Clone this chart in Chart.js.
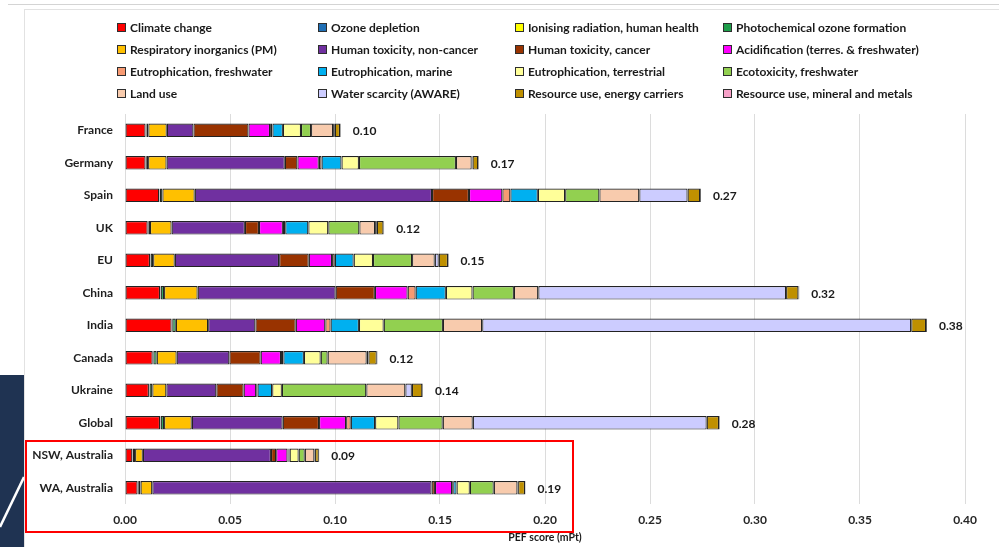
<!DOCTYPE html>
<html>
<head>
<meta charset="utf-8">
<script src="https://cdn.jsdelivr.net/npm/chart.js@4.4.1/dist/chart.umd.min.js"></script>
<style>
  html, body { margin: 0; padding: 0; background: #fff; }
  body { width: 999px; height: 547px; position: relative; overflow: hidden; font-family: Lato, "Liberation Sans", sans-serif; }
  #topline { position: absolute; left: 8px; top: 0; right: 0; height: 4px; border-bottom: 1px solid #d4d4d4; }
  #frame { position: absolute; left: 24px; top: 9px; right: -2px; bottom: -2px; border: 1px solid #e2e2e2; }
  #navy { position: absolute; left: 0; top: 375px; width: 24px; bottom: 0; background: #1f3352; overflow: hidden; }
  #c { position: absolute; left: 0; top: 0; }
  #legend { position: absolute; left: 117px; top: 16px; display: grid;
            grid-template-columns: 201px 197px 208px 230px; grid-auto-rows: 22px; }
  .item { display: flex; align-items: center; white-space: nowrap; font-weight: bold; font-size: 12px; color: #1a1a1a; }
  .sw { width: 7px; height: 7px; border: 1px solid #2e2e2e; margin-right: 4px; flex: none; }
  #redbox { position: absolute; left: 25px; top: 440px; width: 545px; height: 89px; border: 2px solid #ff0000; }
</style>
</head>
<body>
<div id="topline"></div>
<div id="frame"></div>
<div id="navy">
  <svg width="24" height="172" viewBox="0 0 24 172">
    <line x1="0" y1="152" x2="24" y2="102" stroke="#ffffff" stroke-width="2.5"/>
  </svg>
</div>
<canvas id="c" width="999" height="547"></canvas>
<div id="legend"></div>
<div id="redbox"></div>
<script>
// Countries / regions, top to bottom
const categories = ['France', 'Germany', 'Spain', 'UK', 'EU', 'China', 'India', 'Canada', 'Ukraine', 'Global', 'NSW, Australia', 'WA, Australia'];

// PEF score contributions (mPt) per impact category, in the order of the categories above
const climateChange     = [0.0098, 0.0098, 0.0163, 0.0108, 0.0119, 0.0167, 0.0222, 0.0132, 0.0114, 0.0167, 0.0035, 0.0060];
const ozoneDepletion    = [0.0001, 0.0001, 0.0001, 0.0001, 0.0001, 0.0001, 0.0001, 0.0001, 0.0001, 0.0001, 0.0001, 0.0001];
const ionisingRadiation = [0.0003, 0.0002, 0.0002, 0.0002, 0.0002, 0.0002, 0.0002, 0.0002, 0.0002, 0.0002, 0.0002, 0.0002];
const photochemical     = [0.0009, 0.0009, 0.0012, 0.0008, 0.0012, 0.0016, 0.0017, 0.0016, 0.0013, 0.0016, 0.0010, 0.0011];
const respiratory       = [0.0088, 0.0088, 0.0154, 0.0103, 0.0103, 0.0160, 0.0154, 0.0095, 0.0067, 0.0132, 0.0037, 0.0056];
const toxNonCancer      = [0.0127, 0.0563, 0.1130, 0.0349, 0.0497, 0.0657, 0.0225, 0.0251, 0.0238, 0.0433, 0.0610, 0.1330];
const toxCancer         = [0.0262, 0.0060, 0.0176, 0.0067, 0.0141, 0.0187, 0.0192, 0.0149, 0.0130, 0.0173, 0.0025, 0.0016];
const acidification     = [0.0103, 0.0102, 0.0159, 0.0114, 0.0111, 0.0156, 0.0141, 0.0097, 0.0060, 0.0129, 0.0054, 0.0082];
const eutroFreshwater   = [0.0011, 0.0013, 0.0038, 0.0011, 0.0013, 0.0038, 0.0025, 0.0011, 0.0006, 0.0022, 0.0005, 0.0005];
const eutroMarine       = [0.0050, 0.0095, 0.0131, 0.0110, 0.0090, 0.0144, 0.0135, 0.0098, 0.0070, 0.0116, 0.0005, 0.0016];
const eutroTerrestrial  = [0.0086, 0.0083, 0.0130, 0.0095, 0.0092, 0.0127, 0.0118, 0.0080, 0.0046, 0.0111, 0.0043, 0.0063];
const ecotoxFreshwater  = [0.0048, 0.0462, 0.0163, 0.0148, 0.0186, 0.0197, 0.0282, 0.0033, 0.0402, 0.0211, 0.0029, 0.0114];
const landUse           = [0.0105, 0.0075, 0.0190, 0.0075, 0.0108, 0.0116, 0.0187, 0.0186, 0.0186, 0.0143, 0.0046, 0.0113];
const waterScarcity     = [0.0008, 0.0004, 0.0230, 0.0008, 0.0019, 0.1180, 0.2043, 0.0008, 0.0031, 0.1114, 0.0003, 0.0003];
const energyCarriers    = [0.0025, 0.0027, 0.0060, 0.0032, 0.0044, 0.0059, 0.0071, 0.0040, 0.0050, 0.0059, 0.0018, 0.0033];
const mineralsMetals    = [0.0003, 0.0003, 0.0004, 0.0003, 0.0003, 0.0004, 0.0004, 0.0003, 0.0003, 0.0003, 0.0002, 0.0002];

// Impact category names and fill colours
const seriesNames = [
  'Climate change', 'Ozone depletion', 'Ionising radiation, human health', 'Photochemical ozone formation',
  'Respiratory inorganics (PM)', 'Human toxicity, non-cancer', 'Human toxicity, cancer', 'Acidification (terres. & freshwater)',
  'Eutrophication, freshwater', 'Eutrophication, marine', 'Eutrophication, terrestrial', 'Ecotoxicity, freshwater',
  'Land use', 'Water scarcity (AWARE)', 'Resource use, energy carriers', 'Resource use, mineral and metals'
];
const seriesValues = [
  climateChange, ozoneDepletion, ionisingRadiation, photochemical,
  respiratory, toxNonCancer, toxCancer, acidification,
  eutroFreshwater, eutroMarine, eutroTerrestrial, ecotoxFreshwater,
  landUse, waterScarcity, energyCarriers, mineralsMetals
];
const seriesColors = [
  '#ff0000', '#1f6fb5', '#ffff00', '#1e9e4a',
  '#ffc000', '#7030a0', '#993300', '#ff00ff',
  '#f79a72', '#00b0f0', '#ffff99', '#92d050',
  '#f8cbad', '#ccccff', '#bf9000', '#f7a1c8'
];

// x-axis tick values
const xTicks = [0, 0.05, 0.10, 0.15, 0.20, 0.25, 0.30, 0.35, 0.40];

// HTML legend laid out as a 4-column grid
const legendEl = document.getElementById('legend');
seriesNames.forEach((name, i) => {
  const item = document.createElement('div');
  item.className = 'item';
  const sw = document.createElement('span');
  sw.className = 'sw';
  sw.style.background = seriesColors[i];
  item.appendChild(sw);
  item.appendChild(document.createTextNode(name));
  legendEl.appendChild(item);
});

// Writes each bar's total just past its end
const totalLabels = {
  id: 'totalLabels',
  afterDatasetsDraw(chart) {
    const { ctx, scales: { x, y } } = chart;
    ctx.save();
    ctx.font = 'bold 12px Lato';
    ctx.fillStyle = '#1a1a1a';
    ctx.textAlign = 'left';
    ctx.textBaseline = 'middle';
    chart.data.labels.forEach((_, i) => {
      const total = chart.data.datasets.reduce((s, ds) => s + ds.data[i], 0);
      ctx.fillText(total.toFixed(2), x.getPixelForValue(total) + 12, y.getPixelForValue(i) + 1);
    });
    ctx.restore();
  }
};

function draw() {
  new Chart(document.getElementById('c'), {
    type: 'bar',
    data: {
      labels: categories,
      datasets: seriesNames.map((name, i) => ({
        label: name,
        data: seriesValues[i],
        backgroundColor: seriesColors[i],
        borderColor: '#222222',
        borderWidth: 1.2,
        borderSkipped: false,
        barPercentage: 0.42,
        categoryPercentage: 1
      }))
    },
    options: {
      indexAxis: 'y',
      responsive: false,
      animation: false,
      layout: { padding: { top: 114, bottom: 3, left: 0, right: 34 } },
      plugins: { legend: { display: false }, tooltip: { enabled: false } },
      scales: {
        x: {
          stacked: true,
          min: 0,
          max: 0.4,
          afterBuildTicks: (scale) => { scale.ticks = xTicks.map(v => ({ value: v })); },
          ticks: { callback: (v) => Number(v).toFixed(2), font: { family: 'Lato', weight: 'bold', size: 12 }, color: '#262626', padding: 9, maxRotation: 0 },
          grid: { color: '#dcdcdc', drawTicks: false },
          border: { display: false },
          title: { display: true, text: 'PEF score (mPt)', font: { family: 'Lato', weight: 'bold', size: 10.5 }, color: '#1a1a1a', padding: { top: 0, bottom: 0 } },
          afterFit: (scale) => { scale.height = 40; }
        },
        y: {
          stacked: true,
          ticks: { font: { family: 'Lato', weight: 'bold', size: 12 }, color: '#1f1f1f', padding: 4 },
          grid: { display: false },
          border: { display: false },
          afterFit: (scale) => { scale.width = 125; }
        }
      }
    },
    plugins: [totalLabels]
  });
}

if (document.fonts && document.fonts.load) {
  Promise.all([document.fonts.load('bold 12px Lato'), document.fonts.load('bold 11px Lato')]).then(draw, draw);
} else {
  draw();
}
</script>
</body>
</html>
